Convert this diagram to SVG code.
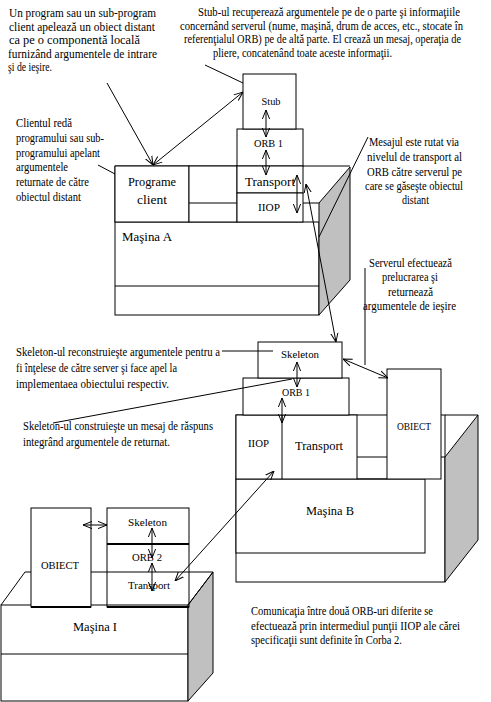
<svg xmlns="http://www.w3.org/2000/svg" width="491" height="702" viewBox="0 0 491 702">
<defs>
<style>
.b{fill:#fff;stroke:#000;stroke-width:1}
.n{fill:none;stroke:#000;stroke-width:1}
.g{fill:#c0c0c0;stroke:#000;stroke-width:1}
.k{stroke:#000;stroke-width:2}
.c{fill:none;stroke:#000;stroke-width:1}
.a{fill:none;stroke:#000;stroke-width:1;marker-end:url(#ah)}
.d{fill:none;stroke:#000;stroke-width:1;marker-start:url(#ah);marker-end:url(#ah)}
text{font-family:"Liberation Serif","Times New Roman",serif;fill:#000}
.t{font-size:11.5px}
.L{font-size:13.5px}
.m{text-anchor:middle}
</style>
<marker id="ah" viewBox="0 0 10 10" refX="10" refY="5" markerWidth="9" markerHeight="9" orient="auto-start-reverse" markerUnits="userSpaceOnUse">
<path d="M0,1 L10,5 L0,9" fill="none" stroke="#000" stroke-width="1.1"/>
</marker>
</defs>
<rect width="491" height="702" fill="#fff"/>

<g id="machineA">
<rect class="b" x="115" y="222" width="204" height="93"/>
<line class="n" x1="115" y1="286" x2="319" y2="286"/>
<polygon class="g" points="319,203 350,167 350,280 319,315"/>
<path class="n" d="M115,222 V166 H350"/>
<line class="n" x1="303" y1="203" x2="319" y2="203"/>
<text class="L" x="122" y="241" textLength="50" lengthAdjust="spacingAndGlyphs">Maşina A</text>
</g>
<g id="programeClient">
<rect class="b" x="115" y="166" width="74" height="56"/>
<text class="L m" x="152" y="186" textLength="48" lengthAdjust="spacingAndGlyphs">Programe</text>
<text class="L m" x="152" y="204">client</text>
</g>
<g id="boxA">
<rect class="b" x="189" y="166" width="48" height="56"/>
<line class="n" x1="189" y1="203" x2="237" y2="203"/>
</g>
<g id="orbA">
<rect class="b" x="237" y="129" width="66" height="37"/>
<text class="m" x="268.5" y="146.5" font-size="11" textLength="29" lengthAdjust="spacingAndGlyphs">ORB 1</text>
</g>
<g id="transportA">
<rect class="b" x="237" y="166" width="66" height="27"/>
<text class="m" x="270" y="186" font-size="13" textLength="50" lengthAdjust="spacingAndGlyphs">Transport</text>
</g>
<g id="iiopA">
<rect class="b" x="237" y="193" width="66" height="29"/>
<text class="m" x="269" y="210.5" font-size="11" textLength="22" lengthAdjust="spacingAndGlyphs">IIOP</text>
</g>
<g id="stubA">
<rect class="b" x="243" y="74" width="53" height="55"/>
<text class="m" x="271" y="105" font-size="10.5" textLength="19" lengthAdjust="spacingAndGlyphs">Stub</text>
</g>

<g id="machineB">
<rect class="b" x="236" y="415" width="209" height="167"/>
<polygon class="g" points="445,457 478,415 478,540 445,582"/>
<line class="n" x1="445" y1="415" x2="478" y2="415"/>
<rect class="b" x="236" y="479" width="189" height="74"/>
<line class="n" x1="357" y1="457" x2="387" y2="457"/>
<line class="n" x1="441" y1="457" x2="445" y2="457"/>
<line class="n" x1="357" y1="479" x2="387" y2="479"/>
<text class="m" x="330" y="515" font-size="13" textLength="48" lengthAdjust="spacingAndGlyphs">Maşina B</text>
</g>
<g id="iiopTransportB">
<rect class="b" x="236" y="415" width="121" height="64"/>
<line class="n" x1="282" y1="415" x2="282" y2="479"/>
<text class="m" x="258.5" y="447" font-size="11" textLength="21" lengthAdjust="spacingAndGlyphs">IIOP</text>
<text class="m" x="319" y="450" font-size="13" textLength="48" lengthAdjust="spacingAndGlyphs">Transport</text>
</g>
<g id="obiectB">
<rect class="b" x="387" y="369" width="54" height="110"/>
<text class="m" x="414" y="430" font-size="10.5" textLength="34" lengthAdjust="spacingAndGlyphs">OBIECT</text>
</g>
<g id="orbB">
<rect class="b" x="243" y="378" width="106" height="37"/>
<text class="m" x="296" y="396" font-size="11" textLength="28" lengthAdjust="spacingAndGlyphs">ORB 1</text>
</g>
<g id="skeletonB">
<rect class="b" x="258" y="342" width="84" height="36"/>
<text class="m" x="300" y="358" font-size="11" textLength="38" lengthAdjust="spacingAndGlyphs">Skeleton</text>
</g>

<g id="machineI">
<rect class="b" x="1" y="605" width="187" height="96"/>
<line class="n" x1="1" y1="654" x2="188" y2="654"/>
<polygon class="g" points="188,605 213,572 213,673 188,701"/>
<path class="n" d="M1,605 L25,572 H213 L188,605"/>
<text class="m" x="95" y="631" font-size="13" textLength="44" lengthAdjust="spacingAndGlyphs">Maşina I</text>
</g>
<g id="obiectI">
<rect class="b" x="31" y="508" width="60" height="99"/>
<line class="k" x1="31" y1="607" x2="91" y2="607"/>
<text class="m" x="60" y="569" font-size="11" textLength="38" lengthAdjust="spacingAndGlyphs">OBIECT</text>
</g>
<g id="stackI">
<rect class="n" x="107" y="508" width="82" height="99"/>
<line class="k" x1="107" y1="544" x2="189" y2="544"/>
<line class="k" x1="107" y1="607" x2="189" y2="607"/>
<text class="m" x="147.5" y="526" font-size="11" textLength="39" lengthAdjust="spacingAndGlyphs">Skeleton</text>
<text class="m" x="147" y="561" font-size="11" textLength="30" lengthAdjust="spacingAndGlyphs">ORB 2</text>
<text class="m" x="149" y="589" font-size="11" textLength="42" lengthAdjust="spacingAndGlyphs">Transport</text>
</g>

<g id="connectors">
<line class="a" x1="107" y1="83" x2="153" y2="165"/>
<line class="d" x1="153" y1="165" x2="243" y2="92"/>
<line class="c" x1="205" y1="65" x2="243" y2="83"/>
<line class="c" x1="98" y1="165" x2="115" y2="174"/>
<line class="d" x1="266" y1="110" x2="266" y2="137"/>
<line class="d" x1="266" y1="150" x2="266" y2="175"/>
<line class="d" x1="297" y1="175" x2="297" y2="213"/>
<line class="d" x1="306" y1="184" x2="336" y2="342"/>
<line class="c" x1="368" y1="137" x2="319" y2="237"/>
<line class="c" x1="365" y1="268" x2="365" y2="365"/>
<line class="d" x1="343" y1="359" x2="388" y2="378"/>
<line class="c" x1="222" y1="351" x2="273" y2="351"/>
<line class="c" x1="53" y1="423" x2="292" y2="379"/>
<line class="d" x1="297" y1="362" x2="297" y2="387"/>
<line class="d" x1="282" y1="398" x2="282" y2="423"/>
<line class="d" x1="175" y1="581" x2="274" y2="471"/>
<line class="d" x1="83" y1="525" x2="107" y2="525"/>
<line class="d" x1="152" y1="528" x2="152" y2="558"/>
<line class="d" x1="152" y1="563" x2="152" y2="591"/>
</g>

<g id="noteProgram" class="t">
<text class="L" x="9" y="17" textLength="147" lengthAdjust="spacingAndGlyphs">Un program sau un sub-program</text>
<text class="L" x="9" y="30.5" textLength="146" lengthAdjust="spacingAndGlyphs">client apelează un obiect distant</text>
<text class="L" x="9" y="44" textLength="131" lengthAdjust="spacingAndGlyphs">ca pe o componentă locală</text>
<text class="L" x="8" y="57.5" textLength="149" lengthAdjust="spacingAndGlyphs">furnizând argumentele de intrare</text>
<text class="L" x="8" y="71" textLength="44" lengthAdjust="spacingAndGlyphs">şi de ieşire.</text>
</g>
<g id="noteStub">
<text class="t" x="198" y="15.5" textLength="262" lengthAdjust="spacingAndGlyphs">Stub-ul  recuperează argumentele pe de o parte şi informaţiile</text>
<text class="t" x="180" y="29.5" textLength="283" lengthAdjust="spacingAndGlyphs">concernând serverul (nume, maşină, drum de acces, etc., stocate în</text>
<text class="t" x="184" y="43" textLength="277" lengthAdjust="spacingAndGlyphs">referenţialul ORB) pe de altă parte. El crează un mesaj,  operaţia de</text>
<text class="t" x="213" y="57" textLength="179" lengthAdjust="spacingAndGlyphs">pliere, concatenând toate aceste informaţii.</text>
</g>
<g id="noteClient">
<text class="t" x="16" y="127" textLength="56" lengthAdjust="spacingAndGlyphs">Clientul redă</text>
<text class="t" x="16" y="142" textLength="88" lengthAdjust="spacingAndGlyphs">programului sau sub-</text>
<text class="t" x="16" y="157" textLength="84" lengthAdjust="spacingAndGlyphs">programului apelant</text>
<text class="t" x="16" y="170.5" textLength="52" lengthAdjust="spacingAndGlyphs">argumentele</text>
<text class="t" x="16" y="185.5" textLength="73" lengthAdjust="spacingAndGlyphs">returnate de către</text>
<text class="t" x="16" y="201" textLength="65" lengthAdjust="spacingAndGlyphs">obiectul distant</text>
</g>
<g id="noteMesaj">
<text class="t" x="369" y="146" textLength="90" lengthAdjust="spacingAndGlyphs">Mesajul este rutat via</text>
<text class="t" x="367" y="161" textLength="95" lengthAdjust="spacingAndGlyphs">nivelul de transport al</text>
<text class="t" x="367" y="175.5" textLength="95" lengthAdjust="spacingAndGlyphs">ORB către serverul pe</text>
<text class="t" x="365" y="190" textLength="98" lengthAdjust="spacingAndGlyphs">care se găseşte obiectul</text>
<text class="t" x="402" y="204" textLength="27" lengthAdjust="spacingAndGlyphs">distant</text>
</g>
<g id="noteServer">
<text class="t" x="369" y="266.5" textLength="83" lengthAdjust="spacingAndGlyphs">Serverul efectuează</text>
<text class="t" x="382" y="281" textLength="56" lengthAdjust="spacingAndGlyphs">prelucrarea şi</text>
<text class="t" x="388" y="295.5" textLength="45" lengthAdjust="spacingAndGlyphs">returnează</text>
<text class="t" x="363" y="310" textLength="93" lengthAdjust="spacingAndGlyphs">argumentele de ieşire</text>
</g>
<g id="noteSkeleton1">
<text class="t" x="16" y="356" textLength="204" lengthAdjust="spacingAndGlyphs">Skeleton-ul  reconstruieşte argumentele pentru a</text>
<text class="t" x="16" y="372" textLength="161" lengthAdjust="spacingAndGlyphs">fi înţelese de către server şi face apel la</text>
<text class="t" x="16" y="387.5" textLength="153" lengthAdjust="spacingAndGlyphs">implementaea obiectului respectiv.</text>
</g>
<g id="noteSkeleton2">
<text class="t" x="23" y="429.5" textLength="190" lengthAdjust="spacingAndGlyphs">Skeleton-ul construieşte un mesaj de răspuns</text>
<text class="t" x="23" y="445.5" textLength="147" lengthAdjust="spacingAndGlyphs">integrând argumentele de returnat.</text>
</g>
<g id="noteComunicatia">
<text class="t" x="251" y="615" textLength="182" lengthAdjust="spacingAndGlyphs">Comunicaţia între două ORB-uri diferite se</text>
<text class="t" x="251" y="630" textLength="209" lengthAdjust="spacingAndGlyphs">efectuează prin intermediul  punţii IIOP ale cărei</text>
<text class="t" x="251" y="644" textLength="151" lengthAdjust="spacingAndGlyphs">specificaţii sunt definite în Corba 2.</text>
</g>
</svg>
